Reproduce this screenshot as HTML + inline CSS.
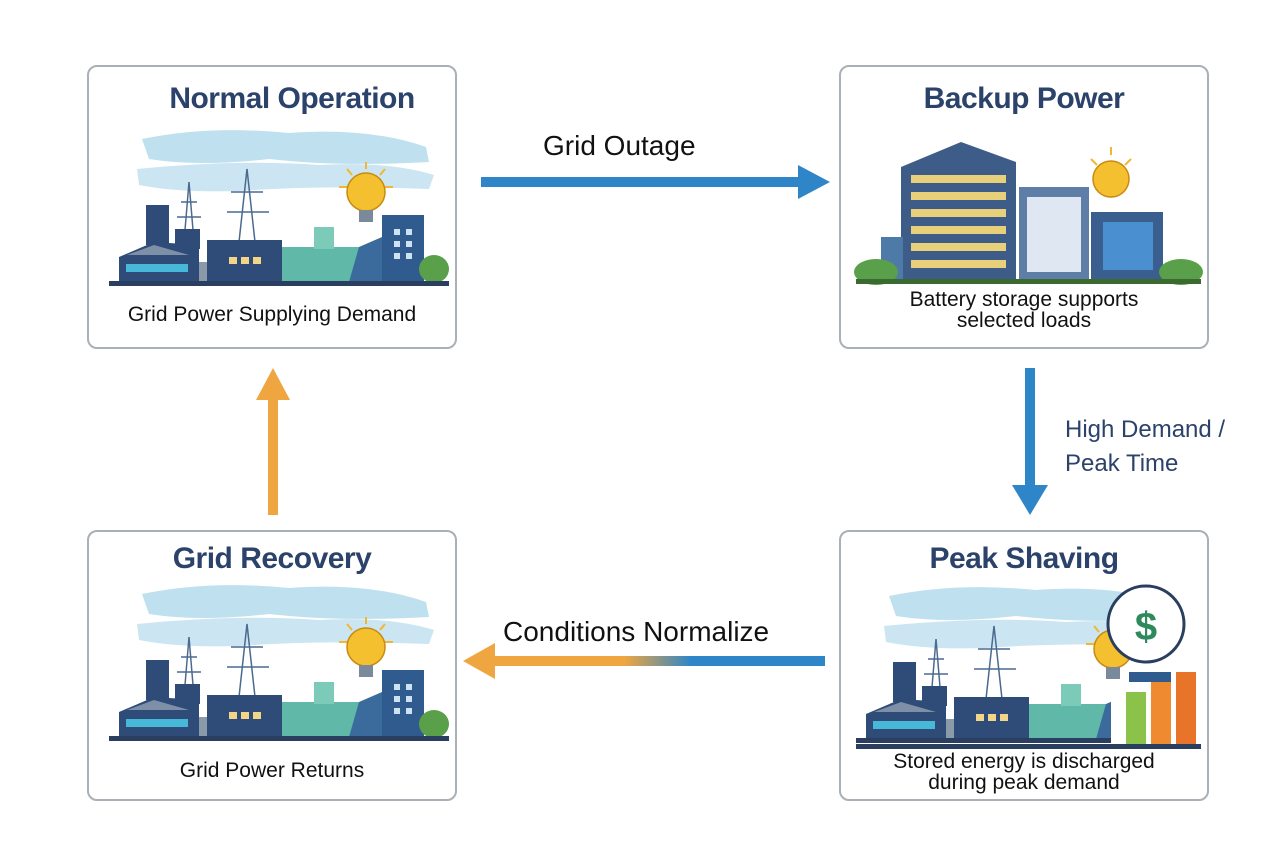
<!DOCTYPE html>
<html><head><meta charset="utf-8"><style>
body{margin:0;width:1272px;height:846px;background:#fff;position:relative;overflow:hidden;font-family:"Liberation Sans",sans-serif}
.box{position:absolute;border:2px solid #a9b0b8;border-radius:10px;background:#fff;box-sizing:border-box}
.t{position:absolute;left:0;right:0;text-align:center;color:#2b426b;font-weight:bold;font-size:30px;letter-spacing:-0.5px}
.c{position:absolute;left:0;right:0;text-align:center;color:#111;font-size:21px;line-height:21px}
.lbl{position:absolute;color:#111;font-size:28px}
svg.sc{position:absolute;left:0;top:0}
</style></head><body>
<svg width="0" height="0" style="position:absolute"><defs>
<g id="fac">
 <path d="M53 72 Q120 58 200 66 Q280 60 337 80 L340 95 Q250 100 180 92 Q110 100 60 92 Z" fill="#bfe0ef"/>
 <path d="M48 102 Q150 92 230 98 Q300 94 345 108 L340 122 Q230 118 150 124 Q90 126 50 118 Z" fill="#cbe6f2"/>
 <g stroke="#4a6a90" stroke-width="1.5" fill="none">
  <path d="M95 175 L100 115 L105 175 M92 135 L108 135 M88 150 L112 150"/>
  <path d="M150 175 L158 102 L166 175 M142 125 L174 125 M138 145 L180 145"/>
 </g>
 <rect x="193" y="180" width="90" height="35" fill="#5fb8a8"/>
 <rect x="225" y="160" width="20" height="22" fill="#7ccab8"/>
 <rect x="57" y="138" width="23" height="40" fill="#2f4b78"/>
 <rect x="86" y="162" width="25" height="20" fill="#2f4b78"/>
 <path d="M30 190 L65 175 L110 178 L110 215 L30 215 Z" fill="#2f4b78"/>
 <path d="M38 188 L65 178 L100 188 Z" fill="#7d90a8"/>
 <rect x="37" y="197" width="62" height="8" fill="#48b8d8"/>
 <rect x="110" y="195" width="22" height="20" fill="#8a9aa8"/>
 <rect x="118" y="173" width="75" height="42" fill="#2f4b78"/>
 <rect x="140" y="190" width="8" height="7" fill="#f3d58a"/><rect x="152" y="190" width="8" height="7" fill="#f3d58a"/><rect x="164" y="190" width="8" height="7" fill="#f3d58a"/>
 <path d="M270 180 L293 170 L293 215 L260 215 Z" fill="#3b6a9c"/>
 <rect x="293" y="148" width="42" height="67" fill="#2f5b8f"/>
 <g fill="#cfe2f2"><rect x="305" y="162" width="6" height="6"/><rect x="317" y="162" width="6" height="6"/><rect x="305" y="174" width="6" height="6"/><rect x="317" y="174" width="6" height="6"/><rect x="305" y="186" width="6" height="6"/><rect x="317" y="186" width="6" height="6"/></g>
 <ellipse cx="345" cy="202" rx="15" ry="14" fill="#5aa04a"/>
 <rect x="20" y="214" width="340" height="5" fill="#2a3f60"/>
 <g stroke="#f0b830" stroke-width="2"><path d="M277 95 L277 102 M258 102 L263 108 M296 102 L291 108 M250 120 L258 120 M304 120 L296 120"/></g>
 <circle cx="277" cy="125" r="19" fill="#f5c030" stroke="#c88a10" stroke-width="1.5"/>
 <rect x="270" y="143" width="14" height="12" fill="#7a8a9a"/>
</g>
</defs></svg>

<!-- Box 1 -->
<div class="box" style="left:87px;top:65px;width:370px;height:284px">
 <svg class="sc" width="370" height="284"><use href="#fac"/></svg>
 <div class="t" style="top:15px;left:60px;right:20px">Normal Operation</div>
 <div class="c" style="top:237px">Grid Power Supplying Demand</div>
</div>
<!-- Box 2 -->
<div class="box" style="left:839px;top:65px;width:370px;height:284px">
 <svg class="sc" width="370" height="284">
  <rect x="90" y="125" width="10" height="70" fill="#2f4b78"/>
  <path d="M60 100 L120 75 L175 95 L175 215 L60 215 Z" fill="#3d5c88"/>
  <g fill="#e8cf7a"><rect x="70" y="108" width="95" height="8"/><rect x="70" y="125" width="95" height="8"/><rect x="70" y="142" width="95" height="8"/><rect x="70" y="159" width="95" height="8"/><rect x="70" y="176" width="95" height="8"/><rect x="70" y="193" width="95" height="8"/></g>
  <rect x="40" y="170" width="22" height="45" fill="#4e7aa8"/>
  <rect x="178" y="120" width="70" height="95" fill="#5e7ea8"/>
  <rect x="186" y="130" width="54" height="75" fill="#dfe8f2"/>
  <rect x="250" y="145" width="72" height="70" fill="#3a5f8f"/>
  <rect x="262" y="155" width="50" height="48" fill="#4a90d0"/>
  <g stroke="#f0b830" stroke-width="2"><path d="M270 80 L270 88 M250 92 L256 98 M290 92 L284 98"/></g>
  <circle cx="270" cy="112" r="18" fill="#f5c030" stroke="#c88a10" stroke-width="1.5"/>
  <ellipse cx="35" cy="205" rx="22" ry="13" fill="#5aa04a"/><ellipse cx="340" cy="205" rx="22" ry="13" fill="#5aa04a"/>
  <rect x="15" y="212" width="345" height="5" fill="#3a6a30"/>
 </svg>
 <div class="t" style="top:15px">Backup Power</div>
 <div class="c" style="top:222px">Battery storage supports<br>selected loads</div>
</div>
<!-- Box 3 -->
<div class="box" style="left:87px;top:530px;width:370px;height:271px">
 <svg class="sc" width="370" height="271"><g transform="translate(0,-10)"><use href="#fac"/></g></svg>
 <div class="t" style="top:10px">Grid Recovery</div>
 <div class="c" style="top:228px">Grid Power Returns</div>
</div>
<!-- Box 4 -->
<div class="box" style="left:839px;top:530px;width:370px;height:271px">
 <svg class="sc" width="370" height="271"><g transform="translate(-5,-8)"><use href="#fac"/></g>
  <rect x="270" y="150" width="80" height="70" fill="#fff"/>
  <rect x="285" y="160" width="20" height="55" fill="#8bc34a"/><rect x="310" y="150" width="20" height="65" fill="#f08a30"/><rect x="335" y="140" width="20" height="75" fill="#e8742a"/>
  <circle cx="305" cy="92" r="38" fill="#fff" stroke="#2a3f60" stroke-width="3"/>
  <text x="305" y="108" font-size="40" font-weight="bold" fill="#2e8a5a" text-anchor="middle" font-family="Liberation Sans">$</text>
  <rect x="15" y="212" width="345" height="5" fill="#2a3f60"/>
 </svg>
 <div class="t" style="top:10px">Peak Shaving</div>
 <div class="c" style="top:219px">Stored energy is discharged<br>during peak demand</div>
</div>

<!-- arrows -->
<svg width="1272" height="846" style="position:absolute;left:0;top:0">
 <defs><linearGradient id="g" x1="0" x2="1"><stop offset="0.05" stop-color="#f0a640"/><stop offset="0.4" stop-color="#f0a640"/><stop offset="0.6" stop-color="#2e86c8"/><stop offset="1" stop-color="#2e86c8"/></linearGradient></defs>
 <rect x="481" y="177" width="320" height="10" fill="#2e86c8"/>
 <path d="M798 165 L830 182 L798 199 Z" fill="#2e86c8"/>
 <rect x="1025" y="368" width="10" height="120" fill="#2e86c8"/>
 <path d="M1012 485 L1048 485 L1030 515 Z" fill="#2e86c8"/>
 <rect x="490" y="656" width="335" height="10" fill="url(#g)"/>
 <path d="M495 643 L463 661 L495 679 Z" fill="#f0a640"/>
 <rect x="268" y="398" width="10" height="117" fill="#f0a640"/>
 <path d="M256 400 L273 368 L290 400 Z" fill="#f0a640"/>
</svg>
<div class="lbl" style="left:543px;top:130px">Grid Outage</div>
<div class="lbl" style="left:503px;top:616px">Conditions Normalize</div>
<div class="lbl" style="left:1065px;top:413px;font-size:24px;color:#2b426b;line-height:34px">High Demand /<br>Peak Time</div>
</body></html>
